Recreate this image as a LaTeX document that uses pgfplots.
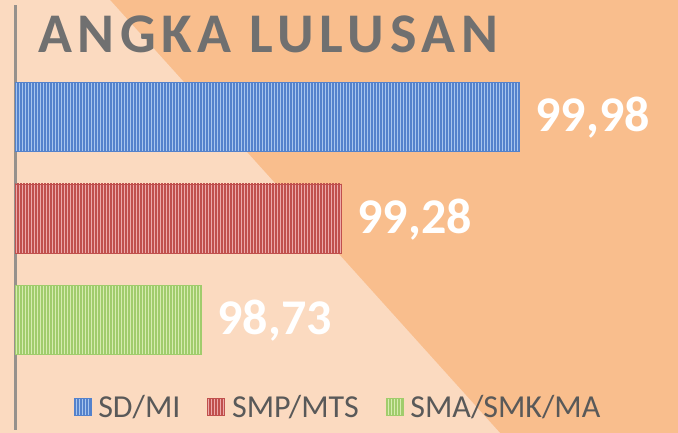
\documentclass[border=0pt]{standalone}
\usepackage{pgfplots}
\pgfplotsset{compat=1.18}
\usepackage{pgfplotstable}
\usetikzlibrary{patterns.meta}
\usepackage{fontspec}
\setmainfont{Carlito}
\newfontfamily\titlefont[LetterSpace=10]{Carlito}
\definecolor{bglight}{RGB}{251,218,192}
\definecolor{bgdark}{RGB}{249,190,141}
\definecolor{titlegray}{RGB}{112,112,112}
\definecolor{leggray}{RGB}{89,89,89}
\definecolor{axisgray}{RGB}{150,145,140}
\definecolor{bluelight}{RGB}{168,198,238}
\definecolor{bluedark}{RGB}{84,130,204}
\definecolor{redlight}{RGB}{236,170,170}
\definecolor{reddark}{RGB}{192,80,77}
\definecolor{greenlight}{RGB}{214,236,176}
\definecolor{greendark}{RGB}{160,204,108}

\pgfplotstableread{
pos val
2 99.98
}\sdmi
\pgfplotstableread{
pos val
1 99.28
}\smp
\pgfplotstableread{
pos val
0 98.73
}\sma

\begin{document}
\begin{tikzpicture}
\useasboundingbox (0,0) rectangle (678pt,433pt);
\fill[bgdark] (0,0) rectangle (678pt,433pt);
\fill[bglight] (0,0) -- (0,433pt) -- (110pt,433pt) -- (500pt,0) -- cycle;
\node[anchor=base west, inner sep=0pt, text=titlegray, font=\titlefont\bfseries\fontsize{56}{60}\selectfont] at (38pt,380pt) {ANGKA LULUSAN};
\begin{axis}[
  at={(15.5pt,3pt)}, anchor=south west,
  scale only axis, width=636pt, height=425pt,
  xmin=0, xmax=2.5, ymin=-1.0837, ymax=3.1034,
  xbar, bar width=0.68,
  axis x line=none, axis y line=left,
  axis line style={-, draw=axisgray, line width=2.2pt},
  ytick=\empty, xtick=\empty,
  point meta=explicit,
  nodes near coords,
  nodes near coords style={anchor=base west, inner sep=0pt, xshift=16pt, yshift=-15pt, text=white, font=\bfseries\fontsize{50}{54}\selectfont},
  /pgf/number format/fixed,
  /pgf/number format/fixed zerofill,
  /pgf/number format/precision=2,
  /pgf/number format/use comma,
  /pgf/number format/assume math mode=true,
  legend columns=3,
  legend style={at={(axis description cs:0.5055,0.054)}, anchor=center, draw=none, fill=none,
    font=\fontsize{32}{36}\selectfont, text=leggray, inner sep=0pt, nodes={inner sep=0pt},
    /tikz/every odd column/.append style={column sep=7pt},
    /tikz/every even column/.append style={column sep=27pt}},
  legend image code/.code={\path[#1, draw=none] (0pt,-8.5pt) rectangle (17pt,8.5pt);},
]
\addplot[bar shift=0pt, fill=bluelight, draw=bluedark, line width=0.6pt,
  postaction={pattern={Lines[angle=90,distance=3pt,line width=1.3pt]}, pattern color=bluedark}]
  table[x expr=\thisrow{val}-98, y=pos, meta=val] {\sdmi};
\addlegendentry{SD/MI}
\addplot[bar shift=0pt, fill=redlight, draw=reddark, line width=0.6pt,
  postaction={pattern={Lines[angle=90,distance=3pt,line width=1.3pt]}, pattern color=reddark}]
  table[x expr=\thisrow{val}-98, y=pos, meta=val] {\smp};
\addlegendentry{SMP/MTS}
\addplot[bar shift=0pt, fill=greenlight, draw=greendark, line width=0.6pt,
  postaction={pattern={Lines[angle=90,distance=3pt,line width=1.3pt]}, pattern color=greendark}]
  table[x expr=\thisrow{val}-98, y=pos, meta=val] {\sma};
\addlegendentry{SMA/SMK/MA}
\end{axis}
\end{tikzpicture}
\end{document}
